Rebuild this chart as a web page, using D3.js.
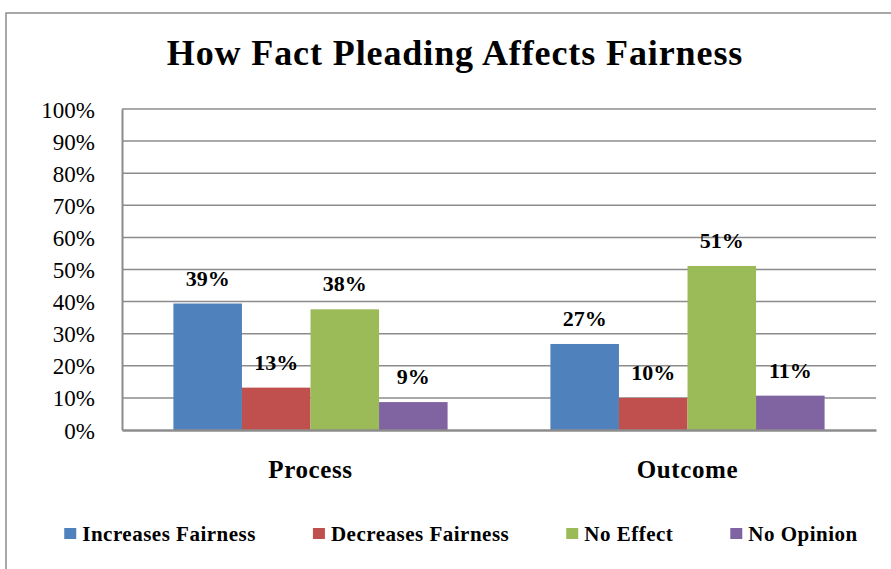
<!DOCTYPE html>
<html>
<head>
<meta charset="utf-8">
<script src="https://cdn.jsdelivr.net/npm/d3@7"></script>
<style>
  html, body { margin: 0; padding: 0; background: #fff; }
  svg { display: block; }
  text { font-family: "Liberation Serif", "DejaVu Serif", serif; fill: #000; }
</style>
</head>
<body>
<svg id="chart" width="891" height="569"></svg>
<script>
const title = "How Fact Pleading Affects Fairness";
const categories = ["Process", "Outcome"];
const seriesNames = ["Increases Fairness", "Decreases Fairness", "No Effect", "No Opinion"];
const seriesColors = ["#4F81BD", "#C0504D", "#9BBB59", "#8064A2"];
const increasesFairness = [0.394, 0.268];
const decreasesFairness = [0.132, 0.100];
const noEffect = [0.376, 0.511];
const noOpinion = [0.087, 0.107];
const yTicks = [0, 0.1, 0.2, 0.3, 0.4, 0.5, 0.6, 0.7, 0.8, 0.9, 1.0];

const seriesValues = [increasesFairness, decreasesFairness, noEffect, noOpinion];
const rows = [];
categories.forEach((c, ci) => {
  seriesNames.forEach((s, si) => rows.push({ cat: c, series: s, value: seriesValues[si][ci], color: seriesColors[si] }));
});

const FONT = '"Liberation Serif", "DejaVu Serif", serif';
const svg = d3.select("#chart");
const grey = "#8c8c8c";
const plot = { left: 122, right: 876, top: 109, bottom: 430 };

// outer frame
svg.append("path")
  .attr("d", `M6,569 L6,13 L891,13`)
  .attr("fill", "none").attr("stroke", grey).attr("stroke-width", 1.5);

// title
svg.append("text")
  .attr("x", 455).attr("y", 65)
  .attr("text-anchor", "middle")
  .attr("font-weight", "bold")
  .style("font-family", FONT)
  .attr("font-size", 36)
  .attr("letter-spacing", 0.9)
  .text(title);

const y = d3.scaleLinear().domain([0, 1]).range([plot.bottom, plot.top]);
const x0 = d3.scaleBand().domain(categories).range([plot.left, plot.right]).padding(0);
const x1 = d3.scaleBand().domain(seriesNames).range([0, x0.bandwidth()]).paddingInner(0).paddingOuter(0.75);

// gridlines
svg.append("g").selectAll("line").data(yTicks.filter(t => t > 0)).join("line")
  .attr("x1", plot.left).attr("x2", plot.right)
  .attr("y1", d => y(d)).attr("y2", d => y(d))
  .attr("stroke", grey).attr("stroke-width", 1.5);

// y axis
const yAxis = d3.axisLeft(y).tickValues(yTicks).tickFormat(d3.format(".0%")).tickSize(0).tickPadding(27);
const ya = svg.append("g").attr("transform", `translate(${plot.left},0)`).call(yAxis);
ya.attr("font-family", null);
ya.select(".domain").attr("stroke", grey).attr("stroke-width", 2);
ya.selectAll("text")
  .style("font-family", FONT)
  .attr("font-size", 23).attr("fill", "#000").attr("dy", "0.35em");

// bars
const groups = svg.append("g").selectAll("g").data(rows).join("g");
groups.append("rect")
  .attr("x", d => x0(d.cat) + x1(d.series))
  .attr("y", d => y(d.value))
  .attr("width", x1.bandwidth())
  .attr("height", d => y(0) - y(d.value))
  .attr("fill", d => d.color);
groups.append("text")
  .attr("x", d => x0(d.cat) + x1(d.series) + x1.bandwidth() / 2)
  .attr("y", d => y(d.value) - 18)
  .attr("text-anchor", "middle")
  .attr("font-weight", "bold")
  .style("font-family", FONT)
  .attr("font-size", 22)
  .text(d => d3.format(".0%")(d.value));

// x axis baseline
const xAxis = d3.axisBottom(x0).tickSize(0).tickPadding(0);
const xa = svg.append("g").attr("transform", `translate(0,${plot.bottom})`).call(xAxis);
xa.attr("font-family", null);
xa.select(".domain").attr("stroke", grey).attr("stroke-width", 2.5);
xa.selectAll("text")
  .style("font-family", FONT)
  .attr("font-weight", "bold").attr("font-size", 25).attr("fill", "#000")
  .attr("letter-spacing", 0.6)
  .attr("dy", 0).attr("y", 48);

// legend
const legend = svg.append("g");
const items = legend.selectAll("g").data(seriesNames).join("g");
items.append("rect").attr("width", 12).attr("height", 11).attr("y", 528)
  .attr("fill", (d, i) => seriesColors[i]);
items.append("text").attr("x", 18).attr("y", 541)
  .attr("font-weight", "bold").attr("font-size", 21)
  .attr("letter-spacing", 0.5)
  .style("font-family", FONT)
  .text(d => d);
const gap = 57;
const widths = [];
items.each(function () { widths.push(18 + this.querySelector("text").getComputedTextLength()); });
const total = d3.sum(widths) + gap * (widths.length - 1);
let cx = 461 - total / 2;
items.each(function (d, i) {
  d3.select(this).attr("transform", `translate(${cx},0)`);
  cx += widths[i] + gap;
});
</script>
</body>
</html>
